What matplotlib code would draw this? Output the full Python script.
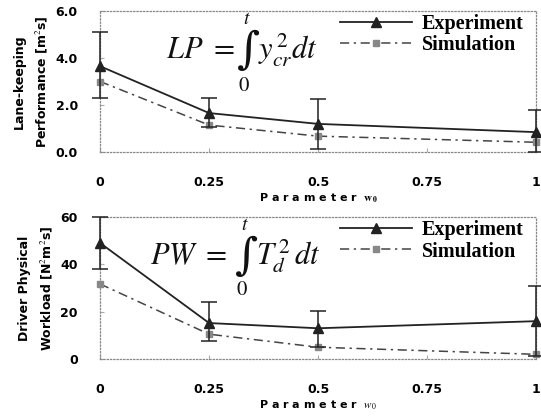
import matplotlib.pyplot as plt
from matplotlib.lines import Line2D

# parameter w0
w0 = [0, 0.25, 0.5, 1.0]
tick_labels = ['0', '0.25', '0.5', '0.75', '1']

# lane-keeping performance [m^2 s]
lp_exp = [3.65, 1.66, 1.2, 0.85]
lp_exp_hi = [5.1, 2.3, 2.25, 1.8]
lp_exp_lo = [2.3, 1.05, 0.15, 0.0]
lp_sim = [3.0, 1.15, 0.68, 0.42]

# driver physical workload [N^2 m^2 s]
pw_exp = [49, 15.2, 13, 16]
pw_exp_hi = [60, 24, 20.5, 31]
pw_exp_lo = [38, 7.5, 5, 1.5]
pw_sim = [31.7, 10.5, 5, 2]

plt.rcParams['mathtext.fontset'] = 'stix'
tickfont = {'family': 'DejaVu Sans', 'weight': 'bold', 'size': 9}
legfont = {'family': 'Liberation Serif', 'weight': 'bold', 'size': 14.5}
SIM_LS = (0, (6, 3, 1.5, 3))

fig = plt.figure(figsize=(5.41, 4.18), dpi=100)
ax1 = fig.add_axes([0.185, 0.636, 0.806, 0.338])
ax2 = fig.add_axes([0.185, 0.141, 0.806, 0.34])


def px(x, y):
    return x / 541, 1 - y / 418


def equation(lhs, rhs, x_lhs, x_int, x_rhs, yc, y_t, y_0):
    kw = dict(fontsize=22, va='center', ha='left', color='#111111')
    fig.text(*px(x_lhs, yc), lhs, **kw)
    fig.text(*px(x_int, yc), '\u222b', family='DejaVu Serif', fontsize=32,
             va='center', ha='left', color='#111111')
    fig.text(*px(x_int + 6, y_t), r'$t$', fontsize=14, va='center', ha='left', color='#111111')
    fig.text(*px(x_int + 1, y_0), r'$0$', fontsize=15, va='center', ha='left', color='#111111')
    fig.text(*px(x_rhs, yc), rhs, **kw)


def panel(ax, exp, hi, lo, sim, ylim, yticks, yticklabels, ylabel, wlabel):
    yerr = [[e - l for e, l in zip(exp, lo)], [h - e for e, h in zip(exp, hi)]]
    ax.errorbar(w0, exp, yerr=yerr, color='#222222', lw=1.3, marker='^', ms=7,
                capsize=6, elinewidth=1.1, capthick=1.1, clip_on=False, zorder=3)
    ax.plot(w0, sim, color='#444444', lw=1.1, ls=SIM_LS, marker='s', ms=5,
            mfc='#888888', mec='#888888', clip_on=False, zorder=2)
    ax.set_xlim(0, 1)
    ax.set_ylim(*ylim)
    ax.set_xticks([0, 0.25, 0.5, 0.75, 1.0])
    ax.set_xticklabels(tick_labels, fontdict=tickfont)
    ax.set_yticks(yticks)
    ax.set_yticklabels(yticklabels, fontdict=tickfont)
    ax.tick_params(axis='x', direction='in', length=3, pad=17, color='#aaaaaa')
    ax.tick_params(axis='y', direction='in', length=3, pad=16, color='#aaaaaa')
    for s in ax.spines.values():
        s.set_linestyle(':')
        s.set_color('#888888')
        s.set_linewidth(0.9)
    ax.set_ylabel(ylabel, fontdict={'family': 'DejaVu Sans', 'weight': 'bold', 'size': 9},
                  linespacing=1.6, labelpad=4)
    ax.set_xlabel(wlabel, fontdict={'family': 'DejaVu Sans', 'weight': 'bold', 'size': 8}, labelpad=2)
    handles = [
        Line2D([], [], color='#222222', lw=1.3, marker='^', ms=7),
        Line2D([], [], color='#444444', lw=1.1, ls=SIM_LS, marker='s', ms=5,
               mfc='#888888', mec='#888888'),
    ]
    ax.legend(handles, ['Experiment', 'Simulation'], loc='upper right', bbox_to_anchor=(1.0, 1.06),
              frameon=False, prop=legfont, handlelength=3.6, handletextpad=0.5,
              labelspacing=0.05, borderaxespad=0.2)


panel(ax1, lp_exp, lp_exp_hi, lp_exp_lo, lp_sim, (0, 6), [0, 2, 4, 6],
      ['0.0', '2.0', '4.0', '6.0'], 'Lane-keeping\nPerformance [m$^2$s]',
      'P a r a m e t e r  $\\mathbf{w_0}$')
panel(ax2, pw_exp, pw_exp_hi, pw_exp_lo, pw_sim, (0, 60), [0, 20, 40, 60],
      ['0', '20', '40', '60'], 'Driver Physical\nWorkload [N$^2$m$^2$s]',
      'P a r a m e t e r  $w_0$')

equation(r'$LP\ =$', r'$y_{cr}^{\,2}dt$', 166, 237, 258, 50, 19, 85)
equation(r'$PW\ =$', r'$T_d^{\,2}\,dt$', 150, 235, 256, 256, 225, 289)

plt.savefig('out.png', dpi=100)
